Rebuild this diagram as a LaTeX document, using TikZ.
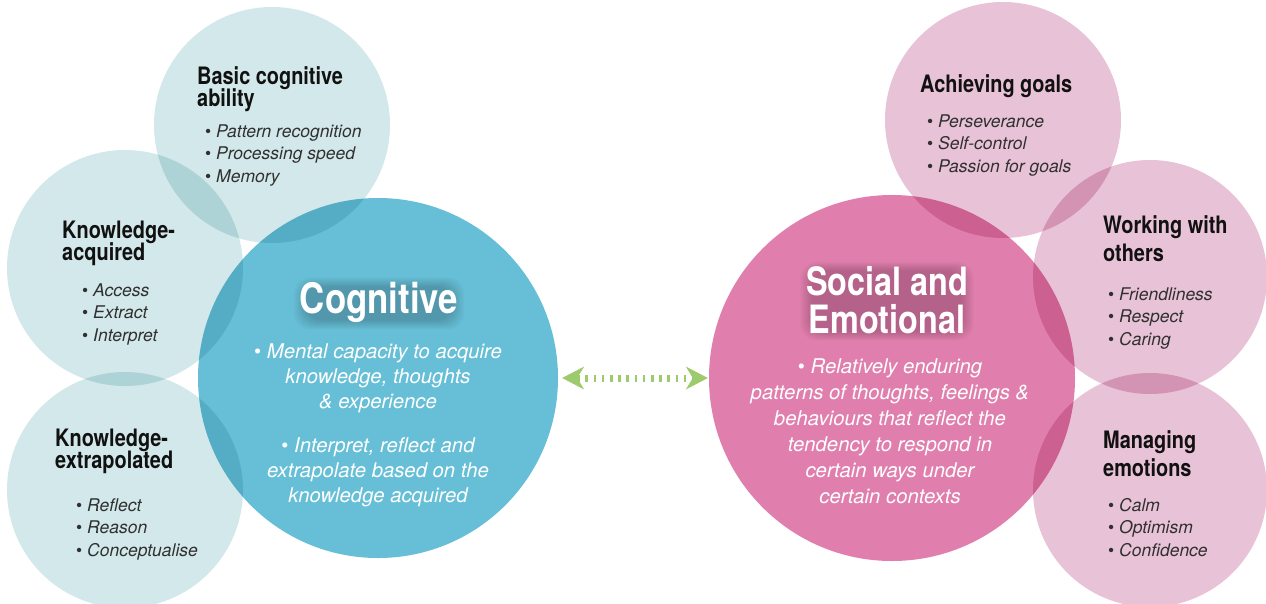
\documentclass[tikz,border=0pt]{standalone}
\usepackage{fontspec}
\setmainfont{TeX Gyre Heros}
\newfontfamily\headfont{TeX Gyre Heros}[FakeStretch=0.83]
\usetikzlibrary{arrows.meta,calc}

\definecolor{lightteal}{HTML}{D3E8EA}
\definecolor{cogblue}{HTML}{66BFD6}
\definecolor{lightpink}{HTML}{E8C2D6}
\definecolor{socpink}{HTML}{E07FAD}
\definecolor{arrowgreen}{HTML}{9DCA6C}
\definecolor{headink}{HTML}{111111}
\definecolor{itemink}{HTML}{303030}

\pgfdeclarelayer{halo}
\pgfdeclarelayer{front}
\pgfsetlayers{main,halo,front}

% stacked lines whose baseline is the baseline of the first line
\newcommand\leftlines[1]{\vtop{\lineskiplimit=-\maxdimen\halign{##\hfil\cr#1\crcr}}}
\newcommand\midlines[1]{\vtop{\lineskiplimit=-\maxdimen\halign{\hfil##\hfil\cr#1\crcr}}}

\tikzset{
  bubble/.style={circle, inner sep=0pt, minimum size=#1, blend mode=multiply},
  subhead/.style={anchor=base west, inner sep=0pt, text=headink,
    font=\headfont\bfseries\fontsize{24}{#1}\selectfont},
  subhead/.default=22.5,
  itemlist/.style={anchor=base west, inner sep=0pt, text=itemink,
    font=\fontsize{17.5}{22.5}\selectfont\itshape},
  bigtitle/.style={anchor=base, inner sep=0pt, text=white,
    font=\headfont\bfseries\fontsize{#1}{38}\selectfont},
  bodytext/.style={anchor=base, inner sep=0pt, text=white,
    font=\fontsize{20.3}{#1}\selectfont\itshape},
  link/.style={draw=arrowgreen, line width=7pt, dash pattern=on 2.6pt off 5.6pt,
    {Stealth[length=22pt, width=23pt, inset=7pt, line width=0pt]}-{Stealth[length=22pt, width=23pt, inset=7pt, line width=0pt]}},
  halofill/.style={fill=black, fill opacity=0.018, rounded corners=16pt},
}

% soft dark glow behind a title node
\newcommand\titlehalo[1]{%
  \begin{pgfonlayer}{halo}
    \foreach \k in {0,...,9}{%
      \fill[halofill] ($(#1.south west)+(-\k*1.3+6,\k*1.0-2)$)
        rectangle ($(#1.north east)+(\k*1.3-6,-\k*1.0+5)$);
    }
  \end{pgfonlayer}%
}

\begin{document}
\begin{tikzpicture}[x=1pt, y=-1pt]
  \useasboundingbox (0,0) rectangle (1266,603);
  \fill[white] (0,0) rectangle (1266,603);
  \clip (0,0) rectangle (1266,603);

  % cognitive cluster
  \node[bubble=236pt, fill=lightteal] (basic) at (272,125) {};
  \node[bubble=236pt, fill=lightteal] (kacq) at (125,268) {};
  \node[bubble=236pt, fill=lightteal] (kext) at (125,490) {};
  \node[bubble=360pt, fill=cogblue] (cog) at (378,378) {};

  % social and emotional cluster
  \node[bubble=236pt, fill=lightpink] (goals) at (1003,120) {};
  \node[bubble=234pt, fill=lightpink] (others) at (1150,277) {};
  \node[bubble=234pt, fill=lightpink] (emotions) at (1150,490) {};
  \node[bubble=366pt, fill=socpink] (soc) at (892,378) {};

  % two-way link between the domains
  \draw[link, shorten <=4pt, shorten >=1pt] (cog) -- (soc);

  \begin{pgfonlayer}{front}
  % cognitive sub-areas
  \node[subhead] (basichead) at (197,84) {\leftlines{Basic cognitive\cr ability}};
  \node[itemlist] (basicitems) at (205,137)
    {\leftlines{{\upshape•} Pattern recognition\cr {\upshape•} Processing speed\cr {\upshape•} Memory}};

  \node[subhead] (kacqhead) at (62,238) {\leftlines{Knowledge-\cr acquired}};
  \node[itemlist] (kacqitems) at (82,296)
    {\leftlines{{\upshape•} Access\cr {\upshape•} Extract\cr {\upshape•} Interpret}};

  \node[subhead] (kexthead) at (55,446) {\leftlines{Knowledge-\cr extrapolated}};
  \node[itemlist] (kextitems) at (76,511)
    {\leftlines{{\upshape•} Reflect\cr {\upshape•} Reason\cr {\upshape•} Conceptualise}};

  % social and emotional sub-areas
  \node[subhead] (goalshead) at (920,92) {Achieving goals};
  \node[itemlist] (goalsitems) at (927,127)
    {\leftlines{{\upshape•} Perseverance\cr {\upshape•} Self-control\cr {\upshape•} Passion for goals}};

  \node[subhead=28] (othershead) at (1103,233) {\leftlines{Working with\cr others}};
  \node[itemlist] (othersitems) at (1108,300)
    {\leftlines{{\upshape•} Friendliness\cr {\upshape•} Respect\cr {\upshape•} Caring}};

  \node[subhead=28] (emotionshead) at (1103,448) {\leftlines{Managing\cr emotions}};
  \node[itemlist] (emotionsitems) at (1108,511)
    {\leftlines{{\upshape•} Calm\cr {\upshape•} Optimism\cr {\upshape•} Confidence}};

  % main domain titles and descriptions
  \node[bigtitle=42] (cogtitle) at (379,313) {Cognitive};
  \node[bodytext=25] (cogbody) at (378,358)
    {\midlines{{\upshape•} Mental capacity to acquire\cr knowledge, thoughts\cr \& experience\cr
      \noalign{\vskip19pt}{\upshape•} Interpret, reflect and\cr extrapolate based on the\cr knowledge acquired}};

  \node[bigtitle=39] (soctitle) at (887,295) {\midlines{Social and\cr Emotional}};
  \node[bodytext=26] (socbody) at (890,373)
    {\midlines{{\upshape•} Relatively enduring\cr patterns of thoughts, feelings \&\cr
      behaviours that reflect the\cr tendency to respond in\cr certain ways under\cr certain contexts}};
  \end{pgfonlayer}

  \titlehalo{cogtitle}
  \titlehalo{soctitle}
\end{tikzpicture}
\end{document}
